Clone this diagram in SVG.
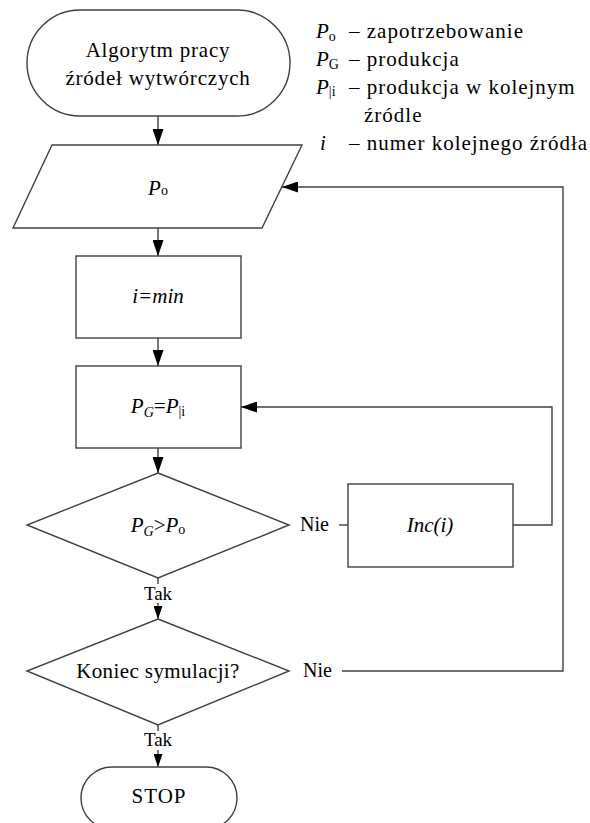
<svg xmlns="http://www.w3.org/2000/svg" width="590" height="823" viewBox="0 0 590 823">
<defs>
<marker id="arr" viewBox="0 0 16 11" refX="16" refY="5.5" markerWidth="16" markerHeight="11" markerUnits="userSpaceOnUse" orient="auto"><path d="M0,0 L16,5.5 L0,11 z" fill="#000"/></marker>
<marker id="arrs" viewBox="0 0 13 9" refX="13" refY="4.5" markerWidth="13" markerHeight="9" markerUnits="userSpaceOnUse" orient="auto"><path d="M0,0 L13,4.5 L0,9 z" fill="#000"/></marker>
</defs>
<rect width="590" height="823" fill="#fff"/>
<g id="connectors" fill="none" stroke="#404040" stroke-width="1.4">
<path d="M158 116 V145" marker-end="url(#arr)"/>
<path d="M158 228 V256" marker-end="url(#arr)"/>
<path d="M158 338 V366" marker-end="url(#arr)"/>
<path d="M158 448 V473" marker-end="url(#arr)"/>
<path d="M158 578 V584 M158 603 V619" marker-end="url(#arrs)"/>
<path d="M158 725 V731 M158 750 V767" marker-end="url(#arrs)"/>
<path d="M339 525 H348"/>
<path d="M513 525 H552 V407 H241" marker-end="url(#arr)"/>
<path d="M342 671 H563 V187 H282" marker-end="url(#arr)"/>
</g>
<g id="labels" fill="#000" stroke="none" font-family="Times New Roman, Liberation Serif, serif">
<text font-size="19" text-anchor="middle" x="158" y="600">Tak</text>
<text font-size="19" text-anchor="middle" x="158" y="746">Tak</text>
<text font-size="20" x="300" y="531">Nie</text>
<text font-size="20" x="303" y="677">Nie</text>
</g>
<g id="start" fill="#fff" stroke="#404040" stroke-width="1.4">
<rect x="27" y="10" width="263" height="106" rx="53"/>
<text fill="#000" stroke="none" font-family="Times New Roman, Liberation Serif, serif" font-size="21" text-anchor="middle" x="158" y="57" letter-spacing="0.8">Algorytm pracy</text>
<text fill="#000" stroke="none" font-family="Times New Roman, Liberation Serif, serif" font-size="21" text-anchor="middle" x="158" y="85" letter-spacing="0.8">źródeł wytwórczych</text>
</g>
<g id="input" fill="#fff" stroke="#404040" stroke-width="1.4">
<polygon points="52,145 302,145 262,228 13,228"/>
<text fill="#000" stroke="none" font-family="Times New Roman, Liberation Serif, serif" font-size="21" text-anchor="middle" x="158" y="195"><tspan font-style="italic">P</tspan><tspan font-size="14">o</tspan></text>
</g>
<g id="init" fill="#fff" stroke="#404040" stroke-width="1.4">
<rect x="76" y="256" width="165" height="82"/>
<text fill="#000" stroke="none" font-family="Times New Roman, Liberation Serif, serif" font-size="21" font-style="italic" text-anchor="middle" x="158" y="303">i=min</text>
</g>
<g id="assign" fill="#fff" stroke="#404040" stroke-width="1.4">
<rect x="76" y="366" width="165" height="82"/>
<text fill="#000" stroke="none" font-family="Times New Roman, Liberation Serif, serif" font-size="21" text-anchor="middle" x="158" y="413"><tspan font-style="italic">P</tspan><tspan font-style="italic" font-size="14" dy="4">G</tspan><tspan dy="-4">=</tspan><tspan font-style="italic">P</tspan><tspan font-size="14" dy="3">|i</tspan></text>
</g>
<g id="decision1" fill="#fff" stroke="#404040" stroke-width="1.4">
<polygon points="158,473 289,525 158,578 27,525"/>
<text fill="#000" stroke="none" font-family="Times New Roman, Liberation Serif, serif" font-size="21" text-anchor="middle" x="158" y="532"><tspan font-style="italic">P</tspan><tspan font-style="italic" font-size="14" dy="4">G</tspan><tspan dy="-4">&gt;</tspan><tspan font-style="italic">P</tspan><tspan font-size="14" dy="2">o</tspan></text>
</g>
<g id="inc" fill="#fff" stroke="#404040" stroke-width="1.4">
<rect x="348" y="484" width="165" height="83"/>
<text fill="#000" stroke="none" font-family="Times New Roman, Liberation Serif, serif" font-size="21" font-style="italic" text-anchor="middle" x="430" y="532">Inc(i)</text>
</g>
<g id="decision2" fill="#fff" stroke="#404040" stroke-width="1.4">
<polygon points="158,619 289,671 158,725 27,671"/>
<text fill="#000" stroke="none" font-family="Times New Roman, Liberation Serif, serif" font-size="21" text-anchor="middle" x="158" y="678" letter-spacing="0.4">Koniec symulacji?</text>
</g>
<g id="stop" fill="#fff" stroke="#404040" stroke-width="1.4">
<rect x="81" y="767" width="156" height="62" rx="31"/>
<text fill="#000" stroke="none" font-family="Times New Roman, Liberation Serif, serif" font-size="21" text-anchor="middle" x="159" y="803" letter-spacing="1">STOP</text>
</g>
<g id="legend" fill="#000" font-family="Times New Roman, Liberation Serif, serif" font-size="21">
<text x="316" y="38"><tspan font-style="italic">P</tspan><tspan font-size="14" dy="3">o</tspan></text>
<text x="349" y="38" letter-spacing="1">– zapotrzebowanie</text>
<text x="316" y="66"><tspan font-style="italic">P</tspan><tspan font-size="14" dy="3">G</tspan></text>
<text x="349" y="66" letter-spacing="1">– produkcja</text>
<text x="316" y="94"><tspan font-style="italic">P</tspan><tspan font-size="14" dy="2">|i</tspan></text>
<text x="349" y="94" letter-spacing="1">– produkcja w kolejnym</text>
<text x="364" y="122" letter-spacing="1">źródle</text>
<text font-style="italic" x="320" y="150">i</text>
<text x="349" y="150" letter-spacing="1">– numer kolejnego źródła</text>
</g>
</svg>
